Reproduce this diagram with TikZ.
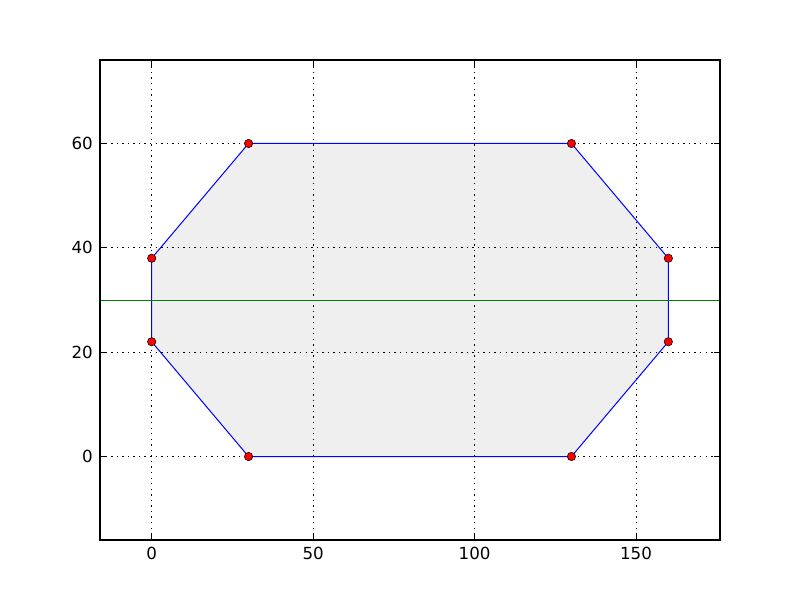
\documentclass[tikz,border=0pt]{standalone}
\usepackage{fontspec}
\setmainfont{DejaVu Sans}
\begin{document}
\begin{tikzpicture}[
  gridline/.style={black, line width=0.5pt, dash pattern=on 1pt off 3pt},
  tickmark/.style={black, line width=0.5pt},
  frame/.style={black, line width=1pt},
  edge/.style={blue, line width=0.72pt},
  marker/.style={circle, fill=red, draw=black, line width=0.4pt, minimum size=6pt, inner sep=0pt},
  ticklabel/.style={font=\fontsize{12}{14}\selectfont, inner sep=0pt},
]
\definecolor{fillgray}{RGB}{239,239,239}
\definecolor{mplgreen}{RGB}{0,128,0}
\useasboundingbox (0,0) rectangle (576pt,432pt);
\fill[white] (0,0) rectangle (576pt,432pt);
\begin{scope}[x=2.325pt, y=3.7565pt, shift={(109.2pt,103.304pt)}]
  % axes corners
  \coordinate (ll) at (-16,-16);
  \coordinate (ur) at (176,76);
  % polygon vertices
  \coordinate (p1) at (30,0);
  \coordinate (p2) at (130,0);
  \coordinate (p3) at (160,22);
  \coordinate (p4) at (160,38);
  \coordinate (p5) at (130,60);
  \coordinate (p6) at (30,60);
  \coordinate (p7) at (0,38);
  \coordinate (p8) at (0,22);
  \fill[fillgray] (p1) -- (p2) -- (p3) -- (p4) -- (p5) -- (p6) -- (p7) -- (p8) -- cycle;
  % grid
  \foreach \xv in {0,50,100,150} {
    \draw[gridline] (\xv,-16) -- (\xv,76);
    \draw[tickmark] (\xv,-16) -- ++(0,4pt);
    \draw[tickmark] (\xv,76) -- ++(0,-4pt);
    \node[ticklabel, anchor=north] (xl\xv) at ([yshift=-5pt]\xv,-16) {\xv};
  }
  \foreach \yv in {0,20,40,60} {
    \draw[gridline] (-16,\yv) -- (176,\yv);
    \draw[tickmark] (-16,\yv) -- ++(4pt,0);
    \draw[tickmark] (176,\yv) -- ++(-4pt,0);
    \node[ticklabel, anchor=east] (yl\yv) at ([xshift=-5pt]-16,\yv) {\yv};
  }
  % polygon edges
  \draw[edge] (p1) -- (p2) -- (p3) -- (p4) -- (p5) -- (p6) -- (p7) -- (p8) -- cycle;
  % green horizontal line
  \coordinate (gl) at (-16,30);
  \coordinate (gr) at (176,30);
  \draw[mplgreen, line width=0.72pt] (gl) -- (gr);
  % markers
  \foreach \p in {p1,p2,p3,p4,p5,p6,p7,p8} {
    \node[marker] (m\p) at (\p) {};
  }
  \draw[frame] (ll) rectangle (ur);
\end{scope}
\end{tikzpicture}
\end{document}
